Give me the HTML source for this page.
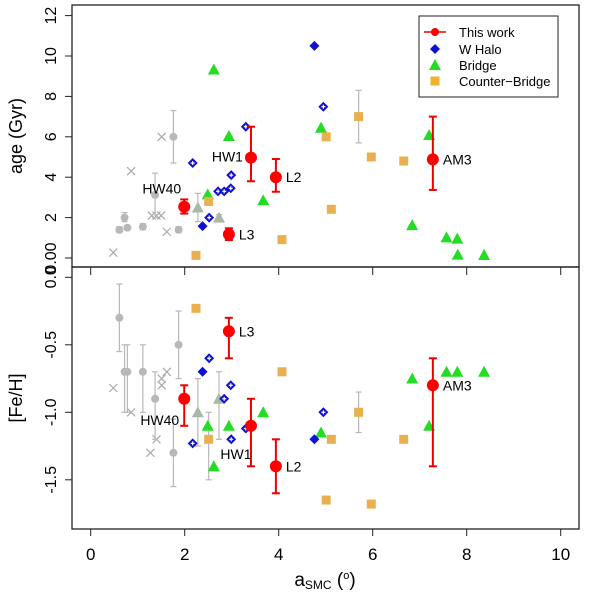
<!DOCTYPE html>
<html><head><meta charset="utf-8"><style>body{margin:0;background:#fff}svg{display:block;font-family:"Liberation Sans",sans-serif}</style></head>
<body>
<svg id="c" width="600" height="593" viewBox="0 0 600 593"></svg>
<script>
// ---- data ----
const redNames=["HW40","HW1","L2","L3","AM3"];
const redX=[1.99,3.41,3.94,2.94,7.28];
const redAge=[2.54,4.97,4.0,1.17,4.88];
const redAgeLo=[2.2,3.8,3.28,0.89,3.37];
const redAgeHi=[2.9,6.5,4.9,1.47,7.0];
const redFe=[-0.9,-1.1,-1.4,-0.4,-0.8];
const redFeLo=[-1.1,-1.4,-1.6,-0.6,-1.4];
const redFeHi=[-0.8,-0.9,-1.2,-0.3,-0.6];

const haloAgeX=[4.76,2.38,4.95,3.30,2.17,2.99,2.71,2.84,2.98,2.52];
const haloAge=[10.5,1.58,7.49,6.5,4.7,4.1,3.3,3.3,3.45,2.0];
const haloAgeSolid=[1,1,0,0,0,0,0,0,0,0];
const haloFeX=[2.52,2.38,2.98,2.84,4.95,3.30,2.99,2.17,4.76];
const haloFe=[-0.6,-0.7,-0.8,-0.9,-1.0,-1.12,-1.2,-1.23,-1.2];
const haloFeSolid=[0,1,0,0,0,0,0,0,1];

const bridgeAgeX=[2.62,2.94,4.90,7.20,3.67,2.49,6.84,7.57,7.80,7.81,8.37];
const bridgeAge=[9.33,6.04,6.45,6.09,2.86,3.15,1.63,1.02,0.96,0.17,0.15];
const bridgeFeX=[3.67,2.49,2.94,2.62,4.90,6.84,7.20,7.57,7.80,8.37];
const bridgeFe=[-1.0,-1.1,-1.1,-1.4,-1.15,-0.75,-1.1,-0.7,-0.7,-0.7];

const cbAgeX=[2.24,2.51,4.07,5.01,5.12,5.70,5.97,6.66];
const cbAge=[0.13,2.8,0.91,6.0,2.41,7.0,5.0,4.8];
const cbFeX=[2.24,4.07,2.51,5.70,5.12,6.66,5.01,5.97];
const cbFe=[-0.23,-0.7,-1.2,-1.0,-1.2,-1.2,-1.65,-1.68];

const greyAgeX=[1.76,1.37,0.72,0.61,0.78,1.11,1.87];
const greyAge=[6.0,3.12,2.0,1.4,1.5,1.55,1.4];
const greyAgeLo=[4.7,2.0,1.8,1.25,1.4,1.4,1.25];
const greyAgeHi=[7.3,4.2,2.25,1.55,1.6,1.7,1.55];
const greyFeX=[0.61,0.72,0.78,1.11,1.37,1.87,1.76];
const greyFe=[-0.3,-0.7,-0.7,-0.7,-0.9,-0.5,-1.3];
const greyFeLo=[-0.55,-1.0,-1.0,-1.0,-1.2,-0.75,-1.55];
const greyFeHi=[-0.05,-0.5,-0.5,-0.5,-0.7,-0.25,-1.05];
const gTriAgeX=[2.28,2.73];
const gTriAge=[2.5,2.0];
const gTriAgeLo=[1.8,1.85];
const gTriAgeHi=[3.2,2.15];
const gTriFeX=[2.28,2.73];
const gTriFe=[-1.0,-0.9];
const gTriFeLo=[-1.25,-1.2];
const gTriFeHi=[-0.75,-0.7];
const crossAgeX=[1.51,0.86,1.3,1.4,1.5,1.62,0.48];
const crossAge=[6.0,4.3,2.1,2.1,2.1,1.3,0.27];
const crossFeX=[0.48,0.86,1.4,1.27,1.51,1.51,1.62];
const crossFe=[-0.82,-1.0,-1.2,-1.3,-0.75,-0.8,-0.7];

const xTicks=[0,2,4,6,8,10];
const ageTicks=[0,2,4,6,8,10,12];
const ageTickLabels=["0.00","2","4","6","8","10","12"];
const feTicks=[0.0,-0.5,-1.0,-1.5];
const feTickLabels=["0.0","-0.5","-1.0","-1.5"];

// ---- axes ----
const L=72,R=579,T1=5,B1=267,B2=529;
const X=v=>90.7+47*v;
const YA=v=>258-20.2*v;
const YF=v=>277.3-135*v;
const svg=document.getElementById('c');
const NS="http://www.w3.org/2000/svg";
function mk(tag,attrs,name,parent){const e=document.createElementNS(NS,tag);for(const k in attrs)e.setAttribute(k,attrs[k]);


(parent||svg).appendChild(e);return e;}
function txt(x,y,s,name,size,anchor,rot){const t=mk('text',{x:x,y:y,'font-size':size,'text-anchor':anchor||'middle',fill:'#000'},name);if(rot)t.setAttribute('transform','rotate(-90 '+x+' '+y+')');t.textContent=s;return t;}

mk('rect',{x:L,y:T1,width:R-L,height:B1-T1,fill:'none',stroke:'#222','stroke-width':1.3},'top-panel-frame');
mk('rect',{x:L,y:B1,width:R-L,height:B2-B1,fill:'none',stroke:'#222','stroke-width':1.3},'bottom-panel-frame');
xTicks.forEach(v=>{mk('line',{x1:X(v),x2:X(v),y1:B1,y2:B1+8,stroke:'#222'},'x-tick-top');
mk('line',{x1:X(v),x2:X(v),y1:B2,y2:B2+7,stroke:'#222'},'x-tick');
txt(X(v),560,String(v),'x-tick-label',17);});
ageTicks.forEach((v,i)=>{mk('line',{x1:L-7,x2:L,y1:YA(v),y2:YA(v),stroke:'#222'},'age-tick');txt(56,YA(v),ageTickLabels[i],'age-tick-label',16,'middle',true);});
feTicks.forEach((v,i)=>{mk('line',{x1:L-7,x2:L,y1:YF(v),y2:YF(v),stroke:'#222'},'feh-tick');txt(56,YF(v),feTickLabels[i],'feh-tick-label',16,'middle',true);});
txt(22,136,'age (Gyr)','y-axis-title-age',18,'middle',true);
txt(22,398,'[Fe/H]','y-axis-title-feh',18,'middle',true);
const xl=mk('text',{x:325,y:586,'font-size':19,'text-anchor':'middle'},'x-axis-title');
xl.innerHTML='a<tspan font-size="12" dy="3">SMC</tspan><tspan dy="-3"> (</tspan><tspan font-size="11" dy="-7">o</tspan><tspan dy="7">)</tspan>';

// ---- marks ----
function ebar(x,lo,hi,col,cw,name){mk('line',{x1:x,x2:x,y1:lo,y2:hi,stroke:col,'stroke-width':col=='#e00'?2:1.2},name);
mk('line',{x1:x-cw,x2:x+cw,y1:lo,y2:lo,stroke:col,'stroke-width':col=='#e00'?2:1.2},name+'-cap');
mk('line',{x1:x-cw,x2:x+cw,y1:hi,y2:hi,stroke:col,'stroke-width':col=='#e00'?2:1.2},name+'-cap');}
function circ(x,y,r,col,name){mk('circle',{cx:x,cy:y,r:r,fill:col},name);}
function tri(x,y,col,name){mk('polygon',{points:`${x},${y-6} ${x-6},${y+5} ${x+6},${y+5}`,fill:col},name);}
function sq(x,y,col,name){mk('rect',{x:x-4.5,y:y-4.5,width:9,height:9,fill:col},name);}
function dia(x,y,solid,name){mk('polygon',{points:`${x},${y-5} ${x+5},${y} ${x},${y+5} ${x-5},${y}`,fill:'#1010d0'},name);
if(!solid){mk('line',{x1:x-2,x2:x+2,y1:y,y2:y,stroke:'#fff','stroke-width':1.2},name+'-cross');mk('line',{x1:x,x2:x,y1:y-2,y2:y+2,stroke:'#fff','stroke-width':1.2},name+'-cross');}}
function cross(x,y,name){mk('path',{d:`M${x-4},${y-4}L${x+4},${y+4}M${x-4},${y+4}L${x+4},${y-4}`,stroke:'#aaa','stroke-width':1.2},name);}

const grey='#b8b8b8';
// top panel
crossAgeX.forEach((v,i)=>cross(X(v),YA(crossAge[i]),'lit-cross-age'));
greyAgeX.forEach((v,i)=>{ebar(X(v),YA(greyAgeLo[i]),YA(greyAgeHi[i]),grey,3,'lit-errbar-age');circ(X(v),YA(greyAge[i]),4,grey,'lit-point-age');});
gTriAgeX.forEach((v,i)=>{ebar(X(v),YA(gTriAgeLo[i]),YA(gTriAgeHi[i]),grey,3,'lit-tri-errbar-age');tri(X(v),YA(gTriAge[i]),'#aab8a8','lit-tri-age');});
ebar(X(5.70),YA(5.7),YA(8.3),grey,3,'cb-errbar-age');
bridgeAgeX.forEach((v,i)=>tri(X(v),YA(bridgeAge[i]),'#22dd22','bridge-point-age'));
cbAgeX.forEach((v,i)=>sq(X(v),YA(cbAge[i]),'#e8b050','counter-bridge-point-age'));
haloAgeX.forEach((v,i)=>dia(X(v),YA(haloAge[i]),haloAgeSolid[i],'w-halo-point-age'));
redX.forEach((v,i)=>{ebar(X(v),YA(redAgeLo[i]),YA(redAgeHi[i]),'#e00',4,'this-work-errbar-age');circ(X(v),YA(redAge[i]),6,'#f00','this-work-point-age');});
const ageLab=[[-15,-8,'end'],[-8,-4,'end'],[10,5,'start'],[10,5,'start'],[10,5,'start']];
redNames.forEach((n,i)=>{const o=ageLab[i];const dx=n=='HW40'?-3:o[0];const dy=n=='HW40'?-13:(n=='HW1'?4:o[1]);txt(X(redX[i])+dx,YA(redAge[i])+dy,n,'label-age-'+n.toLowerCase(),14,o[2]);});

// bottom panel
crossFeX.forEach((v,i)=>cross(X(v),YF(crossFe[i]),'lit-cross-feh'));
greyFeX.forEach((v,i)=>{ebar(X(v),YF(greyFeLo[i]),YF(greyFeHi[i]),grey,3,'lit-errbar-feh');circ(X(v),YF(greyFe[i]),4,grey,'lit-point-feh');});
gTriFeX.forEach((v,i)=>{ebar(X(v),YF(gTriFeLo[i]),YF(gTriFeHi[i]),grey,3,'lit-tri-errbar-feh');tri(X(v),YF(gTriFe[i]),'#aab8a8','lit-tri-feh');});
ebar(X(2.51),YF(-1.0),YF(-1.5),grey,3,'cb-errbar-feh');
ebar(X(5.70),YF(-0.85),YF(-1.15),grey,3,'cb-errbar-feh');
bridgeFeX.forEach((v,i)=>tri(X(v),YF(bridgeFe[i]),'#22dd22','bridge-point-feh'));
cbFeX.forEach((v,i)=>sq(X(v),YF(cbFe[i]),'#e8b050','counter-bridge-point-feh'));
haloFeX.forEach((v,i)=>dia(X(v),YF(haloFe[i]),haloFeSolid[i],'w-halo-point-feh'));
redX.forEach((v,i)=>{ebar(X(v),YF(redFeLo[i]),YF(redFeHi[i]),'#e00',4,'this-work-errbar-feh');circ(X(v),YF(redFe[i]),6,'#f00','this-work-point-feh');});
const feOff={HW40:[-5,26,'end'],HW1:[-15,33,'middle'],L2:[10,5,'start'],L3:[10,5,'start'],AM3:[10,5,'start']};
redNames.forEach((n,i)=>{const o=feOff[n];txt(X(redX[i])+o[0],YF(redFe[i])+o[1],n,'label-feh-'+n.toLowerCase(),14,o[2]);});

// legend
const lg=mk('g',{},'legend');
mk('rect',{x:419,y:16,width:139,height:81,fill:'#fff',stroke:'#222'},'legend-box',lg);
mk('line',{x1:424,x2:446,y1:32,y2:32,stroke:'#e00','stroke-width':1.5},'legend-line-this-work',lg);
circ(435,32,4,'#f00','legend-symbol-this-work');
dia(435,49,1,'legend-symbol-w-halo');
tri(435,65,'#22dd22','legend-symbol-bridge');
sq(435,81,'#f0b030','legend-symbol-counter-bridge');
[['This work',32],['W Halo',49],['Bridge',65],['Counter\u2212Bridge',81]].forEach(e=>txt(459,e[1]+5,e[0],'legend-entry',13,'start'));
</script>
</body></html>
